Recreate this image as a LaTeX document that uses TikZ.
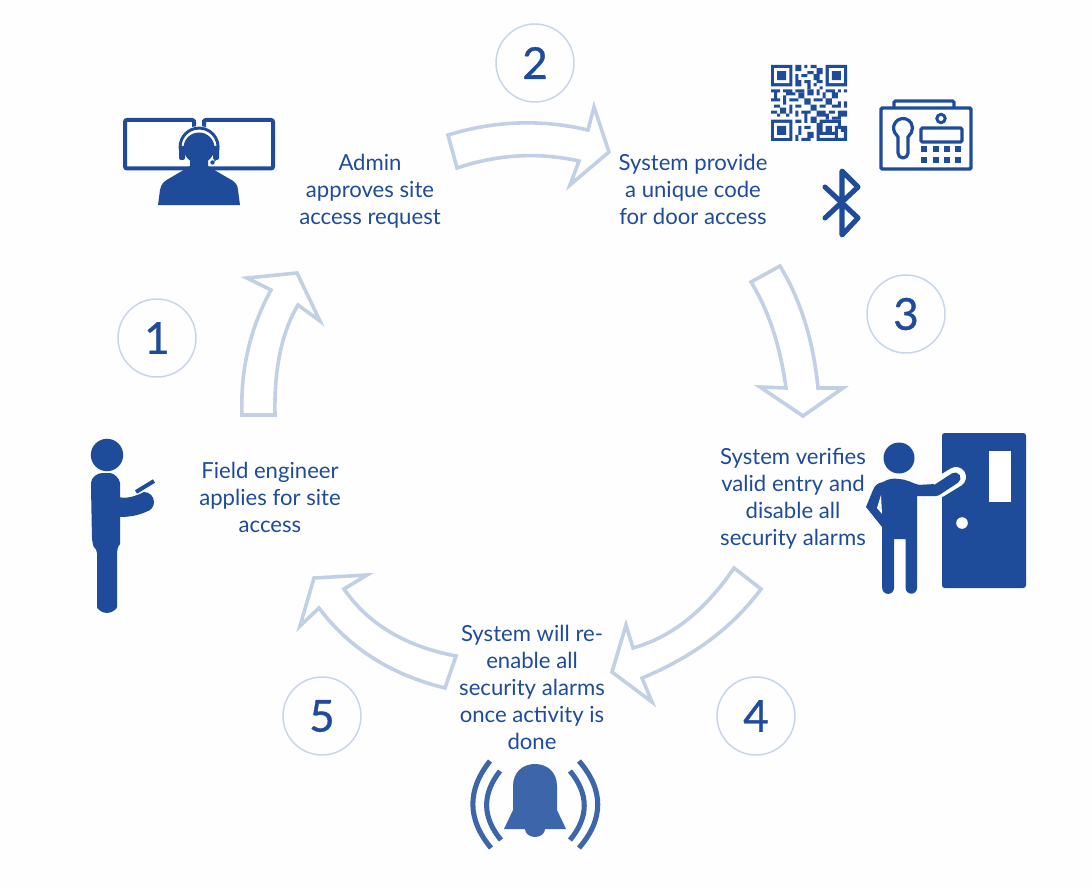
\documentclass[tikz,border=0pt]{standalone}
\usepackage{fontspec}
\setmainfont{Lato}
\definecolor{ink}{HTML}{1E4C9A}
\definecolor{bellc}{HTML}{3D65A9}
\definecolor{flow}{HTML}{C2D0E6}
\definecolor{ring}{HTML}{C8D5E8}
\definecolor{paper}{HTML}{FEFEFE}
\tikzset{
  flowarrow/.style={draw=flow,line width=2.7pt,fill=white,line join=miter,miter limit=6},
  stepring/.style={circle,draw=ring,line width=1.1pt,minimum size=58.5pt,inner sep=0pt,text=ink,font=\fontsize{33}{33}\selectfont\addfontfeature{FakeBold=0.8}},
  caption/.style={align=center,text=ink,inner sep=0pt,font=\fontsize{16.6}{20.25}\selectfont},
  iconline/.style={draw=ink,fill=none},
}
\begin{document}
\begin{tikzpicture}[x=0.75pt,y=-0.75pt]
\useasboundingbox[fill=paper] (0,0) rectangle (1092,888);

% flow arrows
\draw[flowarrow] (448,135) .. controls (494.7,120.7) and (541.3,119) .. (588,130) -- (594,107) -- (609,152) -- (570,185) -- (579,161) .. controls (538.3,152) and (497.7,154.3) .. (457,168) -- cycle;
\draw[flowarrow] (751,282) -- (780,266) .. controls (800.7,300) and (813.3,340.7) .. (818,388) -- (843,388) -- (803,416) -- (760,387) -- (786,388) .. controls (780.3,346) and (768.7,310.7) .. (751,282) -- cycle;
\draw[flowarrow] (734,568) -- (761,589) .. controls (732.7,627.3) and (693,657) .. (642,678) -- (652,702) -- (612,672) -- (626,625) -- (633,648) .. controls (671.3,637.3) and (705,610.7) .. (734,568) -- cycle;
\draw[flowarrow] (456,656) -- (445,688) .. controls (391,674.7) and (349,648) .. (319,608) -- (300,626) -- (314,578) -- (367,575) -- (344,589) .. controls (368,624) and (405.3,646.3) .. (456,656) -- cycle;
\draw[flowarrow] (242,415) -- (275,415) .. controls (274,369) and (281.7,332.3) .. (298,305) -- (320,321) -- (297,273) -- (247,278) -- (271,290) .. controls (250,328.3) and (240.3,370) .. (242,415) -- cycle;

% numbers
\node[stepring] (n1) at (157,338) {1};
\node[stepring] (n2) at (535,63) {2};
\node[stepring] (n3) at (906,314) {3};
\node[stepring] (n4) at (756,716) {4};
\node[stepring] (n5) at (322,716) {5};

% captions
\node[caption] (t1) at (270,500.5) {\strut Field engineer\\applies for site\\access\strut};
\node[caption] (t2) at (370,192.5) {\strut Admin\\approves site\\access request\strut};
\node[caption] (t3) at (693,192.5) {\strut System provide\\a unique code\\for door access\strut};
\node[caption] (t4) at (793,500) {\strut System verifies\\valid entry and\\disable all\\security alarms\strut};
\node[caption] (t5) at (532,690.5) {\strut System will re-\\enable all\\security alarms\\once activity is\\done\strut};

% admin icon
\draw[iconline,line width=3pt,fill=white,rounded corners=1.5pt] (125,120) rectangle (194,168.5);
\draw[iconline,line width=3pt,fill=white,rounded corners=1.5pt] (204,120) rectangle (273,168.5);
\fill[white] (194,126) rectangle (204,166.5);
\draw[ink,line width=3pt] (194,120) -- (194,130) (204,120) -- (204,130);
\fill[white] (199,147) circle (21);
\draw[iconline,line width=2.2pt] (180.5,151) arc[start angle=168,end angle=372,radius=19];
\fill[ink,rounded corners=1.5pt] (179,146) rectangle (185,160);
\fill[ink,rounded corners=1.5pt] (213,146) rectangle (219,160);
\fill[ink] (199,148) circle (15.5);
\fill[ink] (158,205) -- (160,190) .. controls (161,184) and (164,181) .. (170,178) -- (182,171) -- (190,166) -- (190,155) -- (208,155) -- (208,166) -- (216,171) -- (228,178) .. controls (234,181) and (238,184) .. (238,190) -- (240,205) -- cycle;
\draw[ink,line width=0.7pt] (216,158) .. controls (216,160) and (215,161) .. (213,162);
\fill[ink] (212.5,162.5) circle (2.2);

% qr code
\begin{scope}[shift={(771,65)},x=2.28pt,y=-2.28pt]
\fill[ink] (0,0) rectangle (7,7) (18,0) rectangle (25,7) (0,18) rectangle (7,25);
\fill[white] (1,1) rectangle (6,6) (19,1) rectangle (24,6) (1,19) rectangle (6,24);
\fill[ink] (2,2) rectangle (5,5) (20,2) rectangle (23,5) (2,20) rectangle (5,23);
\fill[ink] (8,0) rectangle (10,2) (11,0) rectangle (12,1) (13,0) rectangle (15,1) (15,1) rectangle (17,3) (12,2) rectangle (14,3) (8,3) rectangle (9,5) (10,3) rectangle (12,4) (14,3) rectangle (16,5) (8,5) rectangle (10,7) (11,5) rectangle (13,6) (15,5) rectangle (17,6) (12,6) rectangle (13,8) (14,6) rectangle (15,7) (16,7) rectangle (17,8) (8,8) rectangle (11,9);
\fill[ink] (0,8) rectangle (3,9) (4,8) rectangle (7,9) (12,8) rectangle (14,10) (15,8) rectangle (16,10) (18,8) rectangle (21,9) (22,8) rectangle (23,9) (24,8) rectangle (25,9)
 (1,9) rectangle (2,11) (5,9) rectangle (8,10) (9,9) rectangle (11,11) (17,9) rectangle (18,11) (20,9) rectangle (22,11)
 (0,11) rectangle (3,12) (4,10) rectangle (5,13) (6,11) rectangle (9,12) (11,11) rectangle (13,13) (14,11) rectangle (17,12) (18,11) rectangle (20,13) (22,12) rectangle (23,14)
 (1,13) rectangle (3,14) (6,13) rectangle (7,16) (8,13) rectangle (10,14) (13,13) rectangle (15,15) (16,13) rectangle (18,14) (20,13) rectangle (22,14) (24,12) rectangle (25,14)
 (0,15) rectangle (2,16) (3,14) rectangle (5,16) (8,15) rectangle (9,17) (10,15) rectangle (13,16) (15,15) rectangle (18,17) (19,15) rectangle (21,16) (22,15) rectangle (25,17)
 (2,16) rectangle (3,17) (5,16) rectangle (6,17) (11,16) rectangle (12,19) (13,17) rectangle (15,19) (18,16) rectangle (19,18) (20,17) rectangle (23,18);
\fill[ink] (8,18) rectangle (10,19) (9,20) rectangle (10,23) (8,23) rectangle (9,25) (11,20) rectangle (13,21) (12,22) rectangle (14,24) (15,19) rectangle (16,25) (10,24) rectangle (13,25)
 (16,24) rectangle (25,25) (16,18) rectangle (23,19) (16,18) rectangle (17,23) (22,18) rectangle (23,21) (18,20) rectangle (20,22) (16,22) rectangle (22,23) (23,20) rectangle (25,22) (24,22) rectangle (25,24) (21,20) rectangle (22,24);
\end{scope}

% access panel
\draw[iconline,line width=2.6pt,rounded corners=1pt] (881,108) rectangle (971,169);
\draw[iconline,line width=2.4pt,rounded corners=1pt] (894,108) -- (894,101) -- (954,101) -- (954,108);
\draw[iconline,line width=2.4pt,line join=round] (898,137) -- (894.8,132.75) arc[start angle=150,end angle=390,radius=9.5] -- (908,137) -- (908,153) arc[start angle=0,end angle=180,radius=5] -- cycle;
\draw[iconline,line width=2.2pt] (941,118.5) circle (4.2);
\draw[iconline,line width=2.4pt,rounded corners=1pt] (921,128) rectangle (962,142);
\foreach \bx in {924,936,947,958}{\foreach \by in {149,160}{\fill[ink] (\bx-2.6,\by-2.6) rectangle (\bx+2.6,\by+2.6);}}

% bluetooth
\draw[iconline,line width=3.8pt,line cap=round,line join=round] (825,187) -- (858,218) -- (842,235) -- (842,171) -- (858,187) -- (825,218);

% door with person
\fill[ink,rounded corners=2pt] (942,433) rectangle (1026,588);
\fill[white] (989,451) rectangle (1011,502);
\fill[white] (962,523) circle (5.8);
\draw[white,line width=15pt,line cap=round,line join=round] (925,488) -- (938,488) -- (956,477);
\fill[white] (918,480) rectangle (942,498);
\fill[ink] (899,458) circle (15.5);
\fill[ink] (883,482) .. controls (888,479) and (893,478) .. (899,479) .. controls (906,479) and (912,483) .. (919,485) -- (935,484) -- (918,494) -- (917,494) -- (917,588)
  arc[start angle=0,end angle=180,radius=5.7] -- (905.5,539) -- (894,539) -- (894,588) arc[start angle=0,end angle=180,radius=5.9] -- (882,527) -- (866,507) -- (873,490) .. controls (875,485) and (878,483) .. (883,482) -- cycle;
\fill[white] (881,495) -- (877,508) -- (882,514) -- cycle;
\draw[ink,line width=8.4pt,line cap=round,line join=round] (917,490.5) -- (936,490.5) -- (955,478);

% field engineer
\fill[ink] (107,455) circle (16.2);
\fill[ink,rounded corners=3pt] (91,487) .. controls (91,477) and (98,473) .. (106,473) .. controls (114,473) and (120,479) .. (120,487) -- (120,540) .. controls (120,545) and (118,547) .. (117,549) -- (117,603) arc[start angle=0,end angle=180,radius=10] -- (97,549) .. controls (94,547) and (93,545) .. (92,540) -- cycle;
\fill[ink] (119,497) .. controls (125,499) and (134,497) .. (144,492) arc[start angle=-90,end angle=75,radius=10] .. controls (137,516) and (128,517) .. (119,517) -- cycle;
\draw[ink,line width=3pt] (136,492) -- (154,481);

% bell
\fill[bellc] (513,810) -- (513,786) .. controls (513,772) and (523,764) .. (535,764) .. controls (547,764) and (557,772) .. (557,786) -- (557,810) -- (566,829) -- (545,829) arc[start angle=0,end angle=180,x radius=10,y radius=8] -- (504,829) -- cycle;
\draw[bellc,line width=3.8pt] (490,761) .. controls (467,790) and (467,819) .. (491,848);
\draw[bellc,line width=3.8pt] (500,771) .. controls (482,794) and (482,817) .. (501,840);
\draw[bellc,line width=3.8pt] (579,761) .. controls (604,790) and (604,819) .. (579,848);
\draw[bellc,line width=3.8pt] (570,771) .. controls (589,794) and (589,817) .. (570,840);
\end{tikzpicture}
\end{document}
